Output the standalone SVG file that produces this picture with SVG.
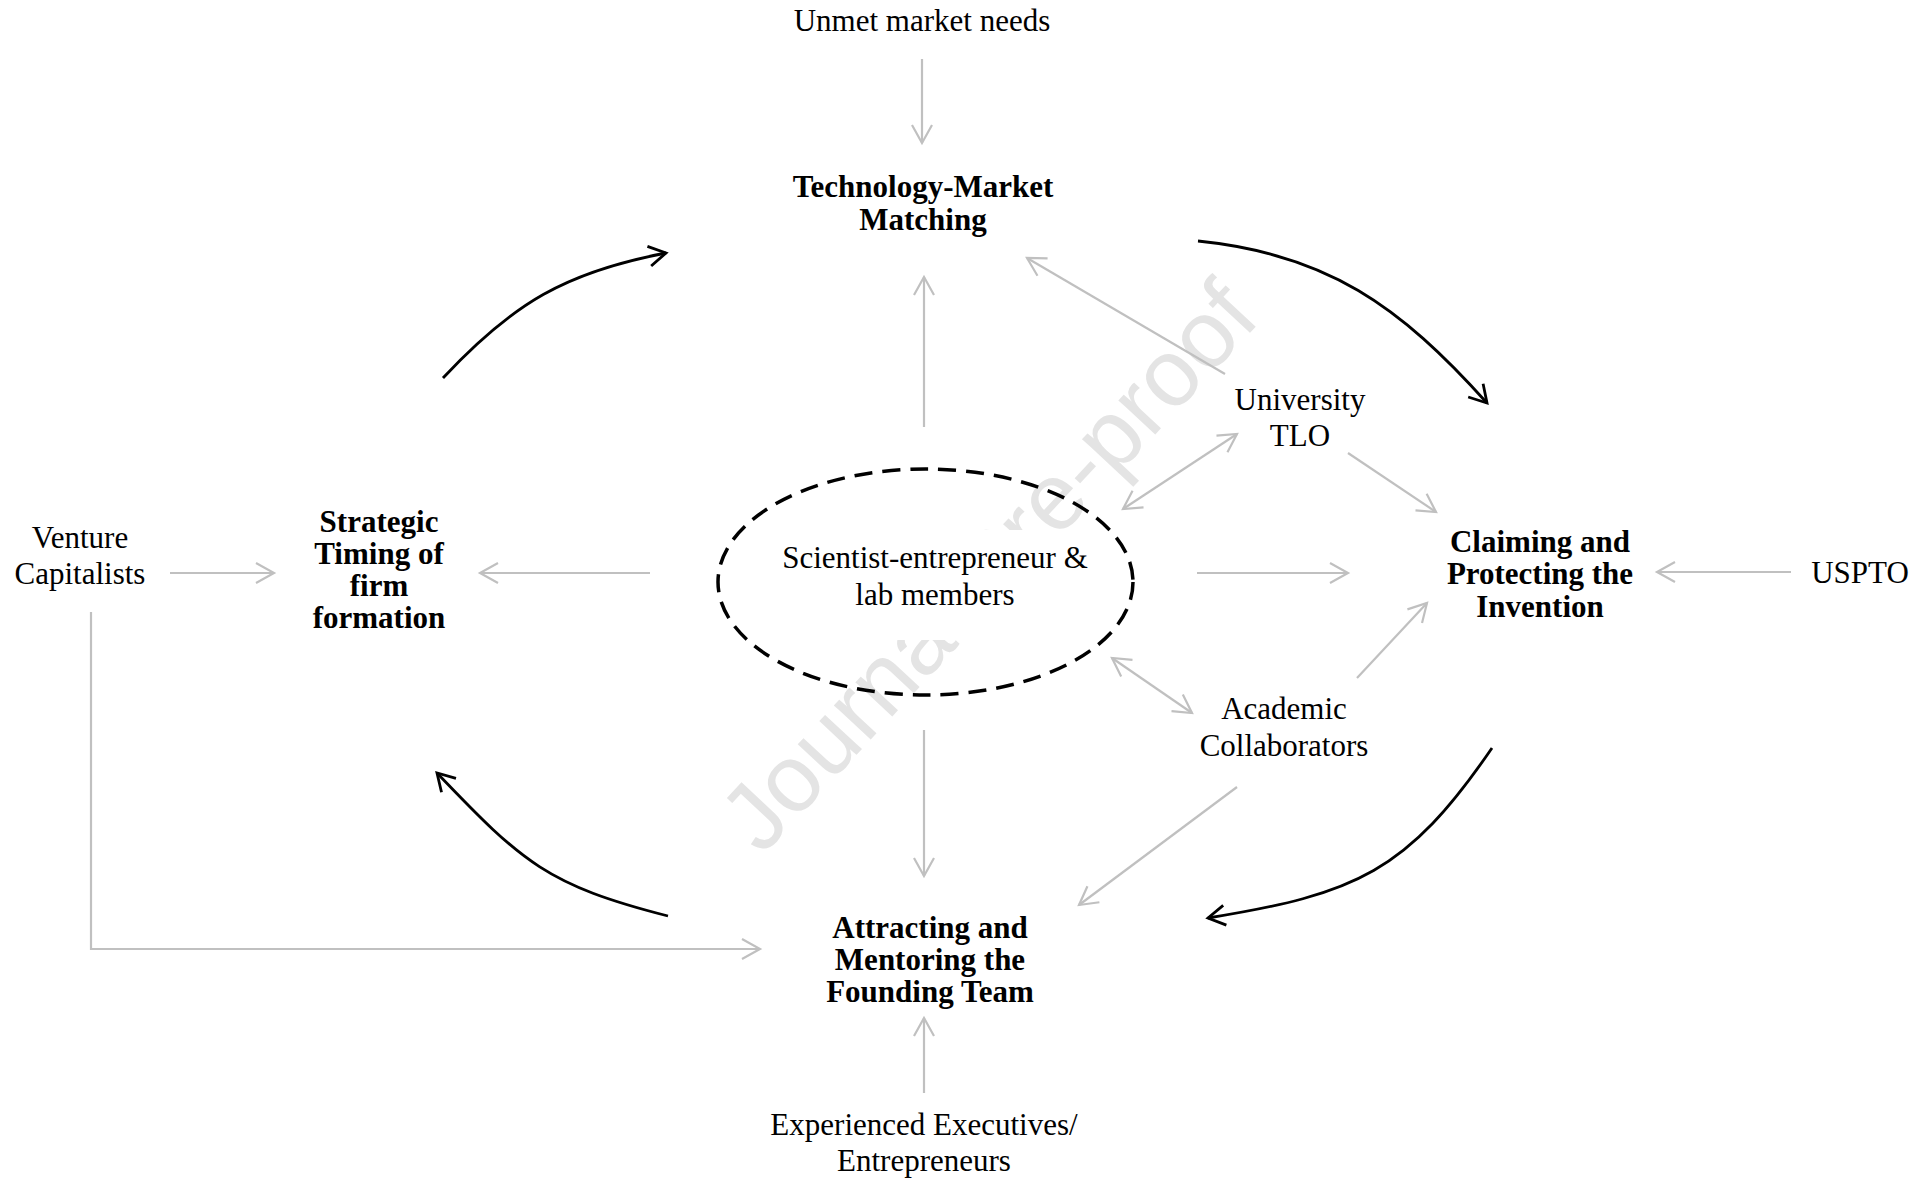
<svg xmlns="http://www.w3.org/2000/svg" width="1926" height="1181" viewBox="0 0 1926 1181">
<style>
.t{font-family:"Liberation Serif","Times New Roman",serif;font-size:31px;fill:#000;text-anchor:middle}
.b{font-weight:bold}
.g{stroke:#c0c0c0;stroke-width:2.2;fill:none;marker-end:url(#ag)}
.g2{marker-start:url(#ag)}
.k{stroke:#000;stroke-width:2.8;fill:none;marker-end:url(#ak)}
.wm{font-family:"Liberation Sans",Arial,sans-serif;font-size:95px;fill:#e4e4e4;text-anchor:middle}
</style>
<defs>
<marker id="ag" markerUnits="userSpaceOnUse" markerWidth="40" markerHeight="40" viewBox="-20 -20 40 40" refX="0" refY="0" orient="auto-start-reverse">
<path d="M-18,-10 L0,0 L-18,10" fill="none" stroke="#c0c0c0" stroke-width="2.2"/>
</marker>
<marker id="ak" markerUnits="userSpaceOnUse" markerWidth="40" markerHeight="40" viewBox="-20 -20 40 40" refX="0" refY="0" orient="auto">
<path d="M-17,-10 L0,0 L-17,10" fill="none" stroke="#000" stroke-width="2.8"/>
</marker>
</defs>
<rect width="1926" height="1181" fill="#fff"/>
<text class="wm" transform="translate(1012 588) rotate(-47)">Journal Pre-proof</text>

<g id="connectors">
<path class="g" d="M922 59 L922 143"/>
<path class="g" d="M924 427 L924 277"/>
<path class="g" d="M1225 374 L1027 258"/>
<path class="g g2" d="M1123 509 L1237 434"/>
<path class="g" d="M1348 453 L1436 512"/>
<path class="g" d="M1197 573 L1348 573"/>
<path class="g" d="M1791 572 L1657 572"/>
<path class="g" d="M1357 678 L1427 603"/>
<path class="g g2" d="M1112 658 L1192 713"/>
<path class="g" d="M924 730 L924 876"/>
<path class="g" d="M1237 787 L1079 905"/>
<path class="g" d="M924 1093 L924 1018"/>
<path class="g" d="M650 573 L480 573"/>
<path class="g" d="M170 573 L274 573"/>
<path class="g" d="M91 612 L91 949 L760 949"/>
<path class="k" d="M443 378 C513 303 566 272 666 253"/>
<path class="k" d="M1198 241 C1327 254 1400 306 1487 403"/>
<path class="k" d="M1492 748 C1407 872 1356 894 1208 918"/>
<path class="k" d="M668 916 C547 885 523 863 437 773"/>
</g>

<g id="center">
<rect x="770" y="530" width="330" height="110" fill="#fff"/>
<ellipse cx="925.5" cy="582" rx="207.5" ry="113" fill="none" stroke="#000" stroke-width="3.5" stroke-dasharray="18 10"/>
<text class="t" x="935" y="568">Scientist-entrepreneur &amp;<tspan x="935" dy="37">lab members</tspan></text>
</g>
<g id="unmet"><text class="t" x="922" y="31">Unmet market needs</text></g>
<g id="tech"><text class="t b" x="923" y="197">Technology-Market<tspan x="923" dy="33">Matching</tspan></text></g>
<g id="tlo"><text class="t" x="1300" y="410">University<tspan x="1300" dy="36">TLO</tspan></text></g>
<g id="claiming"><text class="t b" x="1540" y="552">Claiming and<tspan x="1540" dy="32">Protecting the</tspan><tspan x="1540" dy="33">Invention</tspan></text></g>
<g id="uspto"><text class="t" x="1860" y="583">USPTO</text></g>
<g id="vc"><text class="t" x="80" y="548">Venture<tspan x="80" dy="36">Capitalists</tspan></text></g>
<g id="strategic"><text class="t b" x="379" y="532">Strategic<tspan x="379" dy="32">Timing of</tspan><tspan x="379" dy="32">firm</tspan><tspan x="379" dy="32">formation</tspan></text></g>
<g id="academic"><text class="t" x="1284" y="719">Academic<tspan x="1284" dy="37">Collaborators</tspan></text></g>
<g id="attracting"><text class="t b" x="930" y="938">Attracting and<tspan x="930" dy="32">Mentoring the</tspan><tspan x="930" dy="32">Founding Team</tspan></text></g>
<g id="executives"><text class="t" x="924" y="1135">Experienced Executives/<tspan x="924" dy="36">Entrepreneurs</tspan></text></g>
</svg>
